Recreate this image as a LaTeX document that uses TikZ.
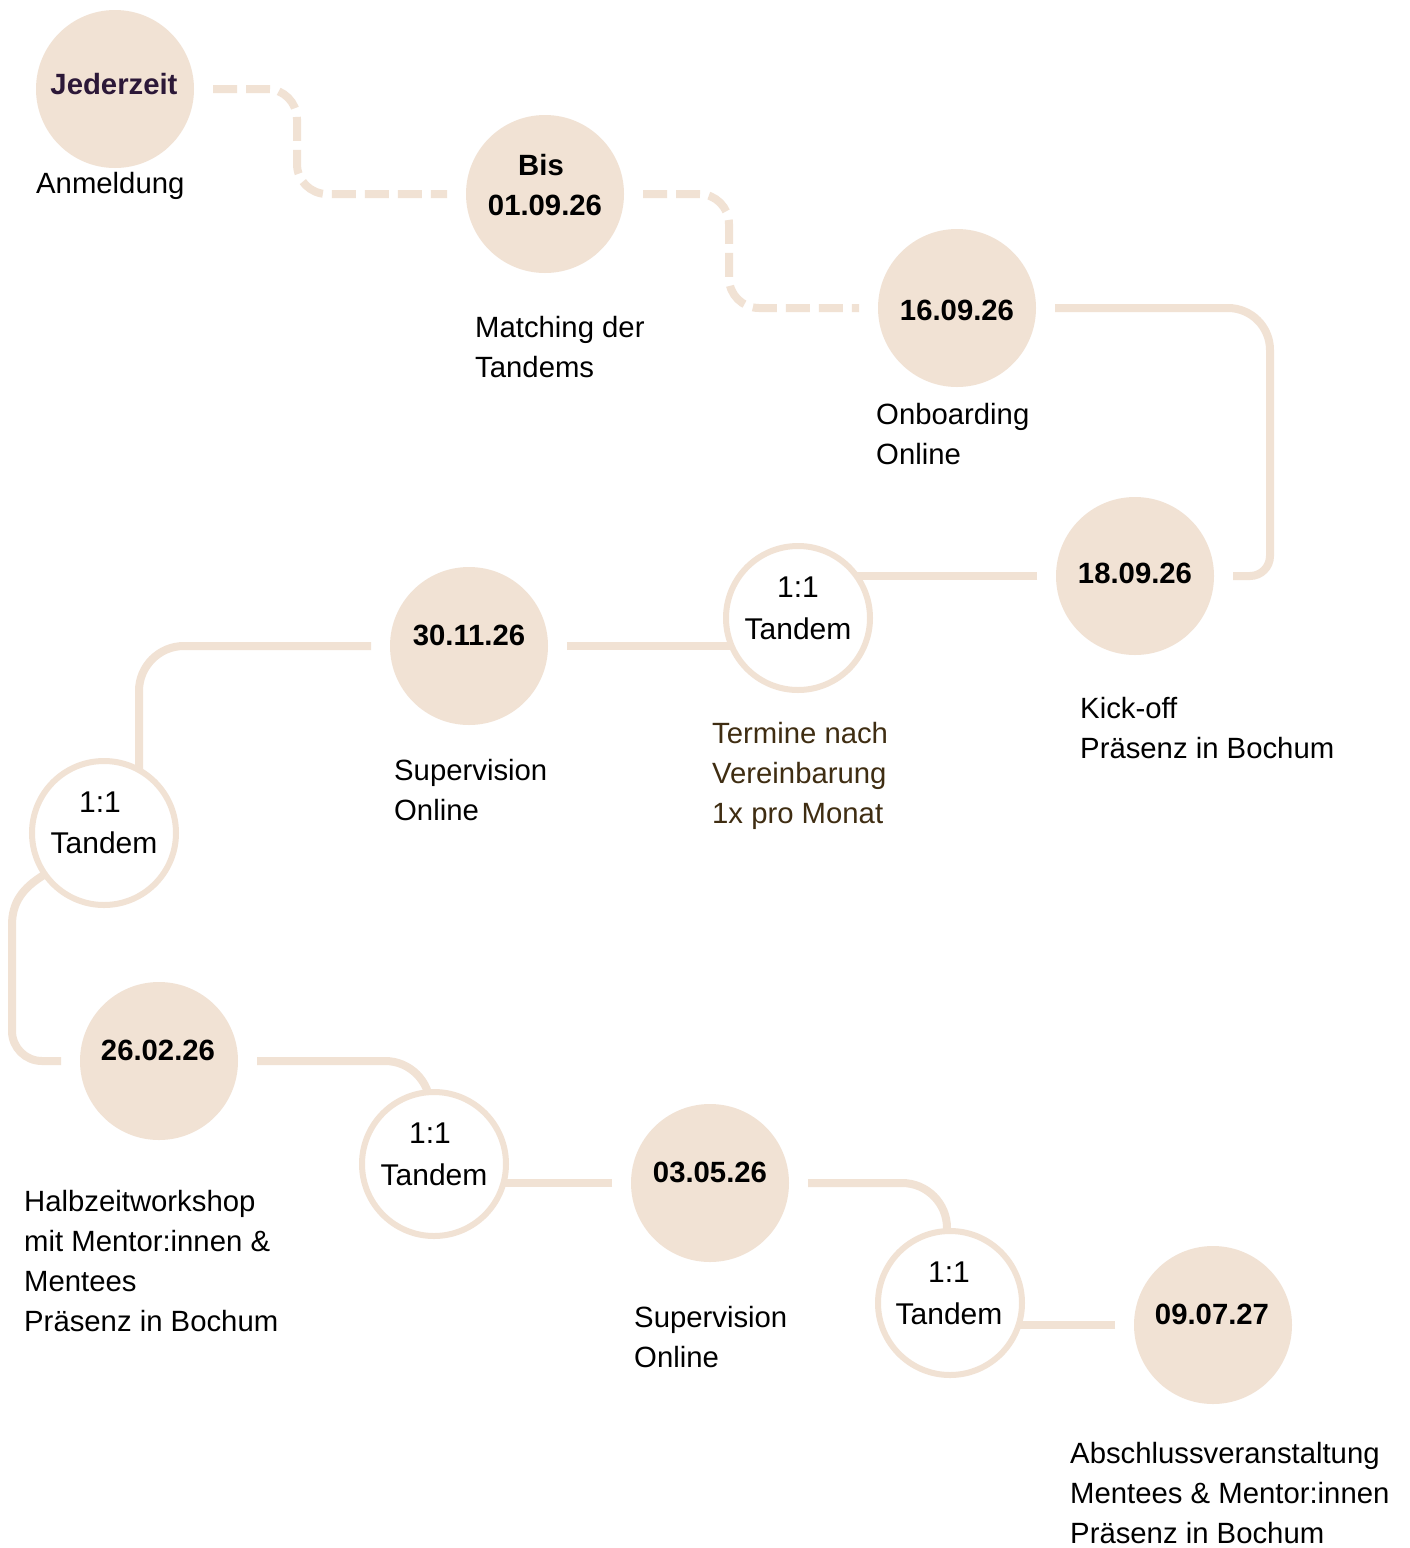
\documentclass[tikz,border=0pt]{standalone}
\usepackage{fontspec}
\setmainfont{Liberation Sans}
\usetikzlibrary{backgrounds,calc}
\definecolor{beige}{HTML}{F1E2D4}
\definecolor{jzcol}{HTML}{2C1838}
\definecolor{brn}{HTML}{3F2D12}
\begin{document}
\begin{tikzpicture}[x=1pt,y=-1pt,
 datec/.style={circle,fill=beige,minimum size=158pt,inner sep=0pt,outer sep=19pt},
 tandc/.style={circle,draw=beige,line width=6pt,fill=white,minimum size=144pt,inner sep=0pt,outer sep=0pt},
 conn/.style={draw=beige,line width=8pt},
 dconn/.style={conn,dash pattern=on 24pt off 9pt},
 dt/.style={font=\fontsize{29.3}{40}\selectfont\bfseries,anchor=base,inner sep=0pt},
 tt/.style={font=\fontsize{30}{40}\selectfont,anchor=base,inner sep=0pt},
 lab/.style={font=\fontsize{29.3}{40}\selectfont,anchor=base west,align=left,inner sep=0pt}]
\useasboundingbox (0,0) rectangle (1410,1548);

\node[datec] (jz) at (115,89) {};
\node[dt,text=jzcol] (jzt) at (114,94) {Jederzeit};
\node[lab] (jzl) at (36,193) {Anmeldung};

\node[datec] (bis) at (545,194) {};
\node[dt] (bist1) at (541,175) {Bis};
\node[dt] (bist2) at (545,215) {01.09.26};
\node[lab] (bisl) at (475,377) {Matching der\\Tandems};

\node[datec] (c1609) at (957,308) {};
\node[dt] (c1609t) at (957,320) {16.09.26};
\node[lab] (c1609l) at (876,464) {Onboarding\\Online};

\node[datec] (c1809) at (1135,576) {};
\node[dt] (c1809t) at (1135,583) {18.09.26};
\node[lab] (c1809l) at (1080,758) {Kick-off\\Präsenz in Bochum};

\node[tandc] (t1) at (798,618) {};
\node[tt] (t1a) at (798,597) {1:1};
\node[tt] (t1b) at (798,639) {Tandem};
\node[lab,text=brn] (t1l) at (712,823) {Termine nach\\Vereinbarung\\1x pro Monat};

\node[datec] (c3011) at (469,646) {};
\node[dt] (c3011t) at (469,645) {30.11.26};
\node[lab] (c3011l) at (394,820) {Supervision\\Online};

\node[tandc] (t2) at (104,833) {};
\node[tt] (t2a) at (100,812) {1:1};
\node[tt] (t2b) at (104,853) {Tandem};

\node[datec] (c2602) at (159,1061) {};
\node[dt] (c2602t) at (158,1060) {26.02.26};
\node[lab] (c2602l) at (24,1331) {Halbzeitworkshop\\mit Mentor:innen \&\\Mentees\\Präsenz in Bochum};

\node[tandc] (t3) at (434,1164) {};
\node[tt] (t3a) at (430,1143) {1:1};
\node[tt] (t3b) at (434,1185) {Tandem};

\node[datec] (c0305) at (710,1183) {};
\node[dt] (c0305t) at (710,1182) {03.05.26};
\node[lab] (c0305l) at (634,1367) {Supervision\\Online};

\node[tandc] (t4) at (950,1303) {};
\node[tt] (t4a) at (949,1282) {1:1};
\node[tt] (t4b) at (949,1324) {Tandem};

\node[datec] (c0907) at (1213,1325) {};
\node[dt] (c0907t) at (1212,1324) {09.07.27};
\node[lab] (c0907l) at (1070,1543) {Abschlussveranstaltung\\Mentees \& Mentor:innen\\Präsenz in Bochum};

\begin{pgfonlayer}{background}
\fill[white] (0,0) rectangle (1410,1548);
\draw[dconn,rounded corners=30] (jz.east) -- ++(84,0) |- (bis.west);
\draw[dconn,rounded corners=30] (bis.east) -- ++(86,0) |- (c1609.west);
\draw[conn] (c1609.east) [rounded corners=42] -- ([xshift=37pt]c1609.east -| c1809.east) [rounded corners=20] -- ([xshift=37pt]c1809.east) [sharp corners] -- (c1809.east);
\draw[conn] (c1809.west) -- (c1809.west -| t1.center);
\draw[conn] (c3011.east) -- (c3011.east -| t1.center);
\draw[conn,rounded corners=45] (c3011.west) -| ([xshift=35pt]t2.center);
\draw[conn] (t2.215) .. controls (22,888) and (12,903) .. (12,925) [rounded corners=30] |- (c2602.west);
\draw[conn,rounded corners=45] (c2602.east) -| ([xshift=-4pt]t3.center);
\draw[conn] (c0305.west) -- (c0305.west -| t3.center);
\draw[conn,rounded corners=45] (c0305.east) -| ([xshift=-3pt]t4.center);
\draw[conn] (c0907.west) -- (c0907.west -| t4.center);
\end{pgfonlayer}
\end{tikzpicture}
\end{document}
